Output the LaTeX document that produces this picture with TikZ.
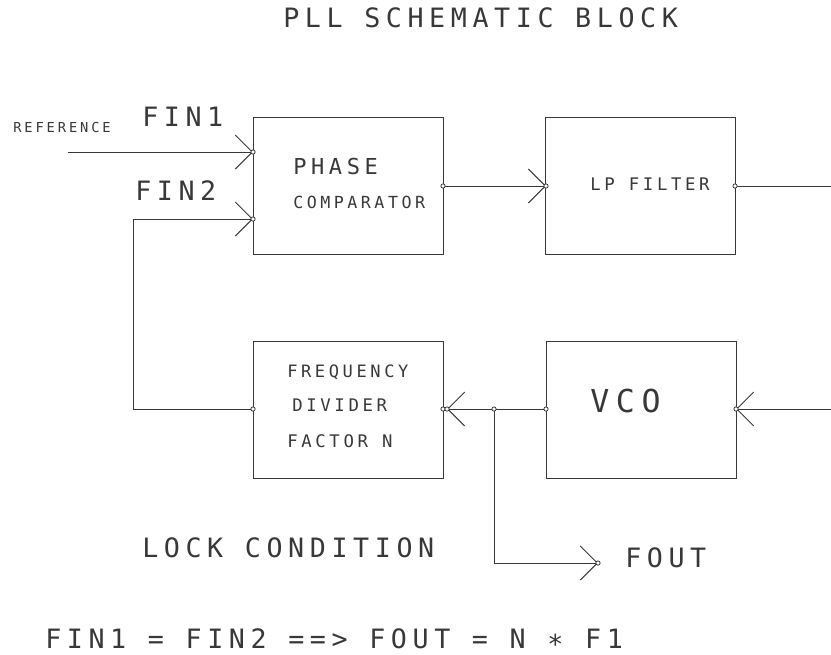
\documentclass[tikz,border=0pt]{standalone}
\usepackage{fontspec}
\newfontfamily\cadfont[LetterSpace=21]{DejaVu Sans Mono}
\usetikzlibrary{arrows.meta,positioning,calc}
\definecolor{ink}{gray}{0.22}

\begin{document}
\begin{tikzpicture}[x=0.75pt,y=0.75pt,yscale=-1,xscale=1,
    block/.style={draw=ink, line width=0.75, minimum width=142.5pt, minimum height=102.75pt, inner sep=0pt},
    wire/.style={draw=ink, line width=0.75},
    feed/.style={wire, -{Straight Barb[length=12.75pt, width=25.5pt]}},
    pin/.style={circle, draw=ink, fill=white, line width=0.6, inner sep=0pt, minimum size=3.2pt},
    txt/.style={inner sep=0pt, anchor=west, text=ink, font=\cadfont\fontsize{#1}{#1}\selectfont}]
        \useasboundingbox (0,0) rectangle (831,654);
        %Shape: Rectangle [phase comparator]
        \node[block] (pcomp) at (348,185.5) {};
        %Shape: Rectangle [lp filter]
        \node[block] (lpfilt) at (640.5,185.5) {};
        %Shape: Rectangle [frequency divider]
        \node[block] (fdiv) at (348,409.5) {};
        %Shape: Rectangle [vco]
        \node[block] (vco) at (641,409.5) {};
        % pin points
        \coordinate (refin) at (68,152);
        \coordinate (pcin1) at (253,152);
        \coordinate (pcin2) at (253,219);
        \coordinate (pcout) at (443,186);
        \coordinate (lpin) at (546,186);
        \coordinate (lpout) at (735,186);
        \coordinate (lpend) at (831,186);
        \coordinate (fdw) at (253,409);
        \coordinate (fbturn) at (133,219);
        \coordinate (fdeast) at (443,409);
        \coordinate (fdin) at (447,409);
        \coordinate (split) at (494,409);
        \coordinate (vcow) at (546,409);
        \coordinate (vcoin) at (736,409);
        \coordinate (vcoend) at (831,409);
        \coordinate (fout) at (598,563);
        %Straight Lines [reference input]
        \draw[feed] (refin) -- (pcin1);
        %Straight Lines [feedback fin2]
        \draw[feed] (fdw) -| (fbturn) -- (pcin2);
        %Straight Lines [comparator to filter]
        \draw[feed] (pcout) -- (lpin);
        %Straight Lines [filter output]
        \draw[wire] (lpout) -- (lpend);
        %Straight Lines [vco input]
        \draw[feed] (vcoend) -- (vcoin);
        %Straight Lines [vco to divider]
        \draw[feed] (vcow) -- (fdin);
        %Straight Lines [fout]
        \draw[feed] (split) |- (fout);
        % pin circles
        \node[pin] (p1) at (pcin1) {};
        \node[pin] (p2) at (pcin2) {};
        \node[pin] (p3) at (pcout) {};
        \node[pin] (p4) at (lpin) {};
        \node[pin] (p5) at (lpout) {};
        \node[pin] (p6) at (fdw) {};
        \node[pin] (p7) at (fdeast) {};
        \node[pin] (p8) at (fdin) {};
        \node[pin] (p9) at (split) {};
        \node[pin] (p10) at (vcow) {};
        \node[pin] (p11) at (vcoin) {};
        \node[pin] (p12) at (fout) {};
        % Text Node
        \node[txt=20] (title) at (283,18) {PLL SCHEMATIC BLOCK};
        \node[txt=10.3] (reflbl) at (13,127) {REFERENCE};
        \node[txt=20] (fin1) at (142,117) {FIN1};
        \node[txt=20] (fin2) at (135,191) {FIN2};
        \node[txt=16.5] (phase) at (293,166) {PHASE};
        \node[txt=12.5] (compar) at (293,202) {COMPARATOR};
        \node[txt=13] (lptxt) at (590,184) {LP FILTER};
        \node[txt=12.8] (freq) at (287,372) {FREQUENCY};
        \node[txt=13] (divd) at (292,405) {DIVIDER};
        \node[txt=13] (factn) at (287,441) {FACTOR N};
        \node[txt=23.7] (vcotxt) at (590,401) {VCO};
        \node[txt=20] (lock) at (142,548) {LOCK CONDITION};
        \node[txt=20] (fouttxt) at (625,558) {FOUT};
        \node[txt=20] (eqn) at (45,639) {FIN1 = FIN2 ==> FOUT = N ∗ F1};
\end{tikzpicture}
\end{document}
